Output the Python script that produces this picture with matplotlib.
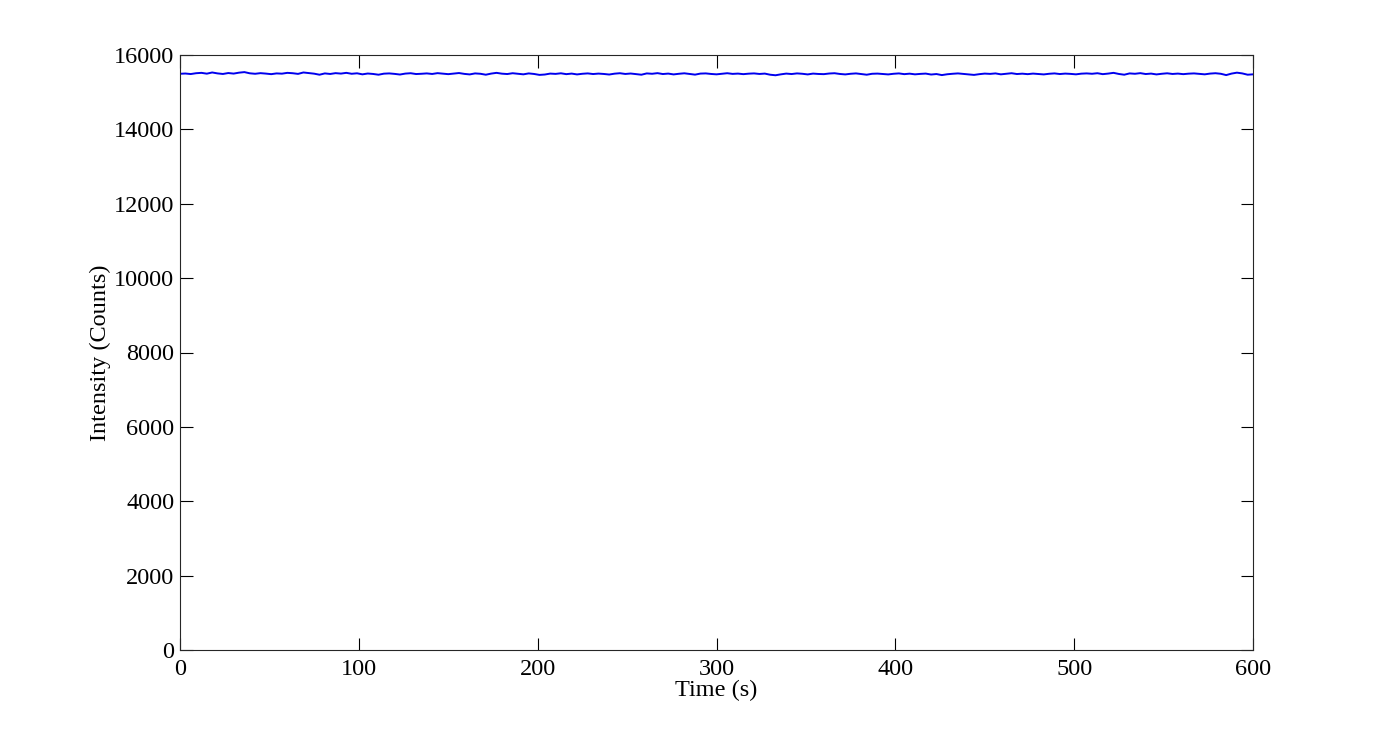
import numpy as np
import matplotlib
matplotlib.use("Agg")
import matplotlib.pyplot as plt

time_start = 0
time_step = 3
intensity = [
    15495, 15502, 15488, 15510, 15520, 15498, 15530, 15505, 15490, 15515,
    15500, 15525, 15540, 15508, 15495, 15512, 15500, 15485, 15505, 15498,
    15520, 15510, 15492, 15530, 15515, 15498, 15470, 15505, 15490, 15512,
    15500, 15520, 15495, 15508, 15480, 15502, 15490, 15470, 15498, 15505,
    15492, 15475, 15500, 15510, 15488, 15495, 15505, 15490, 15512, 15498,
    15485, 15500, 15515, 15492, 15478, 15505, 15495, 15470, 15500, 15520,
    15498, 15488, 15510, 15495, 15480, 15505, 15490, 15465, 15475, 15500,
    15492, 15508, 15485, 15500, 15478, 15495, 15505, 15488, 15500, 15490,
    15475, 15498, 15510, 15490, 15502, 15485, 15470, 15505, 15495, 15512,
    15488, 15500, 15478, 15495, 15508, 15490, 15472, 15500, 15505, 15490,
    15480, 15495, 15510, 15492, 15500, 15485, 15498, 15505, 15490, 15500,
    15470, 15455, 15480, 15500, 15488, 15505, 15495, 15478, 15500, 15490,
    15485, 15502, 15510, 15490, 15478, 15495, 15505, 15488, 15470, 15495,
    15500, 15490, 15478, 15495, 15505, 15485, 15498, 15480, 15492, 15500,
    15475, 15488, 15460, 15482, 15495, 15505, 15490, 15478, 15465, 15485,
    15500, 15492, 15505, 15480, 15495, 15510, 15488, 15498, 15485, 15500,
    15490, 15478, 15495, 15505, 15488, 15500, 15492, 15480, 15498, 15505,
    15495, 15510, 15485, 15500, 15520, 15490, 15470, 15505, 15495, 15512,
    15488, 15500, 15478, 15495, 15508, 15490, 15500, 15485, 15498, 15505,
    15492, 15480, 15500, 15510, 15495, 15460, 15500, 15525, 15505, 15470,
    15480,
]
time = [time_start + i * time_step for i in range(len(intensity))]

x_ticks = [0, 100, 200, 300, 400, 500, 600]
y_ticks = [0, 2000, 4000, 6000, 8000, 10000, 12000, 14000, 16000]

plt.rcParams['font.family'] = ['Liberation Serif', 'DejaVu Serif']

fig = plt.figure(figsize=(13.85, 7.31), dpi=100)
ax = fig.add_axes([180/1385, 81/731, (1253-180)/1385, (650-55)/731])
ax.plot(time, intensity, color='#0000ee', linewidth=1.4)
ax.set_xlim(0, 600)
ax.set_ylim(0, 16000)
ax.set_xticks(x_ticks)
ax.set_yticks(y_ticks)
ax.tick_params(direction='in', length=9, width=0.8, top=True, right=True,
               labelsize=17.5, colors='black')
ax.tick_params(axis='x', pad=6.5)
ax.tick_params(axis='y', pad=4)
for s in ax.spines.values():
    s.set_linewidth(0.8)
    s.set_color('#262626')
ax.set_xlabel('Time (s)', fontsize=17.5, labelpad=0)
ax.set_ylabel('Intensity (Counts)', fontsize=17.5, labelpad=2)

fig.savefig('out.png', dpi=100)
